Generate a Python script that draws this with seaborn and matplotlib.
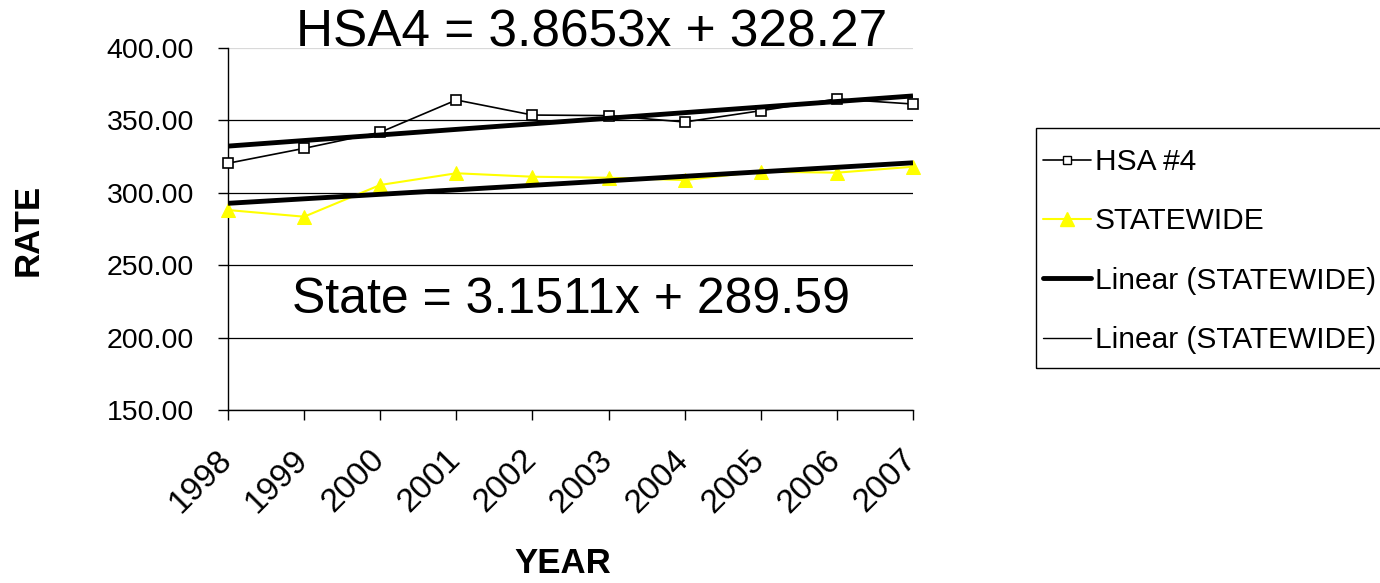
import numpy as np
import pandas as pd
import matplotlib
matplotlib.use("Agg")
import matplotlib.pyplot as plt
import seaborn as sns
from matplotlib.lines import Line2D
from matplotlib.patches import Rectangle
from matplotlib.transforms import ScaledTranslation

# ---- data ----
years = [1998, 1999, 2000, 2001, 2002, 2003, 2004, 2005, 2006, 2007]
hsa4 = [320.4, 330.7, 341.8, 364.1, 353.7, 353.3, 348.9, 356.7, 364.8, 361.3]
statewide = [288.1, 283.5, 305.4, 313.5, 311.1, 310.4, 308.8, 314.6, 313.9, 318.0]
year_labels = [str(y) for y in years]
ytick_values = [150, 200, 250, 300, 350, 400]
ytick_labels = [f"{v:.2f}" for v in ytick_values]
title_text = "HSA4 = 3.8653x + 328.27"
state_text = "State = 3.1511x + 289.59"
legend_labels = ["HSA #4", "STATEWIDE", "Linear (STATEWIDE)", "Linear (STATEWIDE)"]

sns.set_style("white")
plt.rcParams["font.family"] = ["Liberation Sans", "DejaVu Sans"]
plt.rcParams["text.color"] = "black"
plt.rcParams["axes.labelcolor"] = "black"
plt.rcParams["xtick.color"] = "black"
plt.rcParams["ytick.color"] = "black"

W, H = 1380, 583
fig = plt.figure(figsize=(W / 100, H / 100), dpi=100)
ax = fig.add_axes([228 / W, 1 - 410 / H, 685 / W, 362 / H])

df = pd.DataFrame({"YEAR": years, "HSA #4": hsa4, "STATEWIDE": statewide})

sns.lineplot(data=df, x="YEAR", y="HSA #4", ax=ax, color="black", linewidth=1.2,
             marker="s", markersize=6.8, markerfacecolor="white",
             markeredgecolor="black", markeredgewidth=1.2, clip_on=False, zorder=3)
sns.lineplot(data=df, x="YEAR", y="STATEWIDE", ax=ax, color="#FFFF00", linewidth=1.5,
             marker="^", markersize=10, markerfacecolor="#FFFF00",
             markeredgecolor="#FFFF00", clip_on=False, zorder=3)
sns.regplot(data=df, x="YEAR", y="HSA #4", ax=ax, scatter=False, ci=None, truncate=True,
            color="black", line_kws={"linewidth": 3.5, "zorder": 4, "solid_capstyle": "butt"})
sns.regplot(data=df, x="YEAR", y="STATEWIDE", ax=ax, scatter=False, ci=None, truncate=True,
            color="black", line_kws={"linewidth": 3.5, "zorder": 4, "solid_capstyle": "butt"})

ax.set_xlim(years[0], years[-1])
ax.set_ylim(ytick_values[0], ytick_values[-1])
ax.set_yticks(ytick_values)
ax.set_yticklabels(ytick_labels)
ax.set_xticks(years)
ax.set_xticklabels(year_labels, rotation=45, ha="right", va="center", rotation_mode="anchor")
ax.tick_params(axis="both", direction="out", length=7.5, width=1, color="black",
               labelcolor="black", left=True, bottom=True)
ax.tick_params(axis="y", pad=17, labelsize=20.5)
ax.tick_params(axis="x", pad=25, labelsize=24)
off = ScaledTranslation(-1 / 100, 0, fig.dpi_scale_trans)
for lab in ax.get_xticklabels():
    lab.set_transform(lab.get_transform() + off)

for s in ["top", "right"]:
    ax.spines[s].set_visible(False)
for s in ["left", "bottom"]:
    ax.spines[s].set_color("black")
    ax.spines[s].set_linewidth(1)

ax.grid(axis="y", color="black", linewidth=0.9)
ax.grid(axis="x", visible=False)
gl = ax.yaxis.get_gridlines()
gl[-1].set_color("#d9d9d9")
ax.set_axisbelow(True)

ax.set_ylabel("RATE", fontsize=25, fontweight="bold", va="center")
ax.yaxis.set_label_coords(-0.292, 0.497)
ax.set_xlabel("YEAR", fontsize=25, fontweight="bold", va="center")
ax.xaxis.set_label_coords(0.488, -0.425)

ax.set_title(title_text, fontsize=37, x=0.531, y=1.003, va="baseline", pad=0)
ax.text(0.0934, 0.268, state_text, transform=ax.transAxes, fontsize=36,
        ha="left", va="baseline", zorder=5)

handles = [
    Line2D([], [], color="black", lw=1.2, marker="s", markersize=6, markerfacecolor="white",
           markeredgecolor="black"),
    Line2D([], [], color="#FFFF00", lw=1.5, marker="^", markersize=10,
           markerfacecolor="#FFFF00", markeredgecolor="#FFFF00"),
    Line2D([], [], color="black", lw=3.5),
    Line2D([], [], color="black", lw=1.0),
]
leg = fig.legend(handles, legend_labels, loc="upper left",
                 bbox_to_anchor=(1043 / W, 1 - 148 / H), fontsize=21.5, frameon=False,
                 borderaxespad=0, borderpad=0,
                 handlelength=1.6, handletextpad=0.14, labelspacing=1.05)
frame = Rectangle((1036 / W, 1 - 368 / H), 400 / W, 240 / H, transform=fig.transFigure,
                  fill=False, edgecolor="black", linewidth=1.0)
fig.add_artist(frame)

fig.savefig("out.png", dpi=100)
